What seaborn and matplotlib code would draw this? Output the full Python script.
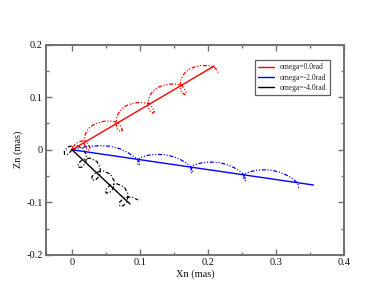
import matplotlib
matplotlib.use("Agg")
import matplotlib.pyplot as plt
import seaborn as sns
from matplotlib.ticker import MultipleLocator, FixedLocator, FixedFormatter

# ---------------- data ----------------
series_labels = ["omega=0.0rad", "omega=-2.0rad", "omega=-4.0rad"]
series_colors = ["#ff0000", "#0000ff", "#000000"]

# straight (solid) lines
red_line_x = [0.0, 0.209]
red_line_y = [0.0, 0.159]
blue_line_x = [0.0, 0.355]
blue_line_y = [0.0, -0.067]
black_line_x = [0.0, 0.0853]
black_line_y = [0.0, -0.103]

# looping (dash-dot) curves
red_curve_x = [0.0, 0.0007, 0.0037, 0.0081, 0.0132,
               0.0199, 0.0243, 0.0272, 0.0243, 0.0199, 0.0176,
               0.0184, 0.0213, 0.0257, 0.0316, 0.0390, 0.0478, 0.0566, 0.0625, 0.0669,
               0.0713, 0.0743, 0.0713, 0.0669, 0.0647,
               0.0654, 0.0684, 0.0728, 0.0787, 0.0860, 0.0949, 0.1037, 0.1096, 0.1140,
               0.1184, 0.1213, 0.1184, 0.1140, 0.1118,
               0.1125, 0.1154, 0.1199, 0.1257, 0.1331, 0.1419, 0.1507, 0.1566, 0.1610,
               0.1654, 0.1684, 0.1654, 0.1610, 0.1588,
               0.1596, 0.1625, 0.1669, 0.1728, 0.1801, 0.1890, 0.1978, 0.2037, 0.2081,
               0.2118, 0.2147]
red_curve_y = [0.0, 0.0048, 0.0095, 0.0133, 0.0162,
               0.0171, 0.0095, 0.0019, -0.0010, 0.0038, 0.0133,
               0.0248, 0.0343, 0.0419, 0.0476, 0.0514, 0.0543, 0.0543, 0.0533, 0.0524,
               0.0448, 0.0371, 0.0343, 0.0390, 0.0486,
               0.0600, 0.0695, 0.0771, 0.0829, 0.0867, 0.0895, 0.0895, 0.0886, 0.0876,
               0.0800, 0.0724, 0.0695, 0.0743, 0.0838,
               0.0952, 0.1048, 0.1124, 0.1181, 0.1219, 0.1248, 0.1248, 0.1238, 0.1229,
               0.1152, 0.1076, 0.1048, 0.1095, 0.1190,
               0.1305, 0.1400, 0.1476, 0.1533, 0.1571, 0.1600, 0.1600, 0.1590, 0.1581,
               0.1533, 0.1467]

blue_curve_x = [0.0, 0.0118, 0.0265, 0.0412, 0.0559, 0.0706, 0.0824, 0.0912,
                0.0971, 0.0993, 0.0993, 0.0971, 0.0971,
                0.1000, 0.1059, 0.1147, 0.1265, 0.1382, 0.1500, 0.1603, 0.1676, 0.1721, 0.1750,
                0.1772, 0.1772, 0.1750, 0.1750,
                0.1779, 0.1838, 0.1926, 0.2044, 0.2162, 0.2279, 0.2382, 0.2456, 0.2500, 0.2529,
                0.2551, 0.2551, 0.2529, 0.2529,
                0.2559, 0.2618, 0.2706, 0.2824, 0.2941, 0.3059, 0.3162, 0.3235, 0.3279, 0.3309,
                0.3331, 0.3331]
blue_curve_y = [0.0, 0.0038, 0.0067, 0.0076, 0.0067, 0.0019, -0.0057, -0.0133,
                -0.0183, -0.0240, -0.0297, -0.0278, -0.0202,
                -0.0154, -0.0126, -0.0097, -0.0088, -0.0097, -0.0135, -0.0192, -0.0250, -0.0297, -0.0330,
                -0.0387, -0.0444, -0.0425, -0.0349,
                -0.0301, -0.0272, -0.0244, -0.0234, -0.0244, -0.0282, -0.0339, -0.0396, -0.0444, -0.0476,
                -0.0533, -0.0590, -0.0571, -0.0495,
                -0.0448, -0.0419, -0.0390, -0.0381, -0.0390, -0.0429, -0.0486, -0.0543, -0.0590, -0.0623,
                -0.0680, -0.0737]

black_curve_x = [0.0, -0.00561, -0.01088, -0.01120, -0.00493, 0.00577, 0.01610, 0.02149,
                 0.02029, 0.01468, 0.00941, 0.00909, 0.01536, 0.02606, 0.03639, 0.04178,
                 0.04058, 0.03497, 0.02971, 0.02938, 0.03565, 0.04635, 0.05668, 0.06208,
                 0.06087, 0.05525, 0.05000, 0.04967, 0.05594, 0.06664, 0.07697, 0.08237,
                 0.08117, 0.07554, 0.07029, 0.06996, 0.07624, 0.08693, 0.09726]
black_curve_y = [0.0, -0.00868, -0.00874, -0.00195, 0.00594, 0.00850, 0.00245, -0.01045,
                 -0.02445, -0.03314, -0.03319, -0.02640, -0.01851, -0.01595, -0.02200, -0.03490,
                 -0.04890, -0.05759, -0.05764, -0.05085, -0.04296, -0.04040, -0.04645, -0.05935,
                 -0.07335, -0.08202, -0.08210, -0.07530, -0.06741, -0.06485, -0.07090, -0.08380,
                 -0.09780, -0.10648, -0.10655, -0.09976, -0.09186, -0.08930, -0.09535]

x_ticks = [0.0, 0.1, 0.2, 0.3, 0.4]
x_tick_labels = ["0", "0.1", "0.2", "0.3", "0.4"]
y_ticks = [-0.2, -0.1, 0.0, 0.1, 0.2]
y_tick_labels = ["-0.2", "-0.1", "0", "0.1", "0.2"]
x_label = "Xn (mas)"
y_label = "Zn (mas)"

# ---------------- plotting ----------------
sns.set_style("white")
plt.rcParams["font.family"] = ["Liberation Serif", "DejaVu Serif"]

fig = plt.figure(figsize=(3.88, 3.0), dpi=100)
ax = fig.add_axes([46 / 388, 1 - 255 / 300, (344 - 46) / 388, (255 - 44.5) / 300])

curve_style_rb = (0, (3.2, 1.4, 0.9, 1.4, 0.9, 1.4))
curve_style_k = (0, (3.2, 1.6, 0.9, 1.6))

lines = [(red_line_x, red_line_y), (blue_line_x, blue_line_y), (black_line_x, black_line_y)]
curves = [(red_curve_x, red_curve_y), (blue_curve_x, blue_curve_y), (black_curve_x, black_curve_y)]
styles = [curve_style_rb, curve_style_rb, curve_style_k]

for (cx, cy), col, st in zip(curves, series_colors, styles):
    sns.lineplot(x=cx, y=cy, sort=False, estimator=None, color=col, lw=0.9,
                 linestyle=st, ax=ax)

handles = []
for (lx, ly), col, lab in zip(lines, series_colors, series_labels):
    sns.lineplot(x=lx, y=ly, sort=False, estimator=None, color=col, lw=1.0, ax=ax)
    handles.append(ax.lines[-1])

ax.set_xlim(-0.0382, 0.4)
ax.set_ylim(-0.2, 0.2)

ax.xaxis.set_major_locator(FixedLocator(x_ticks))
ax.xaxis.set_major_formatter(FixedFormatter(x_tick_labels))
ax.yaxis.set_major_locator(FixedLocator(y_ticks))
ax.yaxis.set_major_formatter(FixedFormatter(y_tick_labels))
ax.xaxis.set_minor_locator(MultipleLocator(0.05))
ax.yaxis.set_minor_locator(MultipleLocator(0.05))

spine_col = "#707070"
for s in ax.spines.values():
    s.set_visible(True)
    s.set_color(spine_col)
    s.set_linewidth(1.4)

ax.tick_params(which="both", direction="in", top=True, right=True, bottom=True, left=True,
               color=spine_col, width=1.0, labelsize=7.5, labelcolor="#111111")
ax.tick_params(which="major", length=4.5, pad=2.5)
ax.tick_params(which="minor", length=2.3)

ax.set_xlabel(x_label, fontsize=7.5, labelpad=1.5, color="#111111")
ax.set_ylabel(y_label, fontsize=7.5, labelpad=2.5, color="#111111")

leg = ax.legend(handles, series_labels, loc="upper left",
                bbox_to_anchor=((255 - 46) / 298, 1 - (60 - 44.5) / 210.5),
                fontsize=5.5, frameon=True, fancybox=False, framealpha=1,
                edgecolor="#606060", handlelength=2.0, handletextpad=0.8,
                labelspacing=0.3, borderpad=0.45, borderaxespad=0)
leg.get_frame().set_linewidth(0.9)

fig.savefig("out.png", dpi=100)
